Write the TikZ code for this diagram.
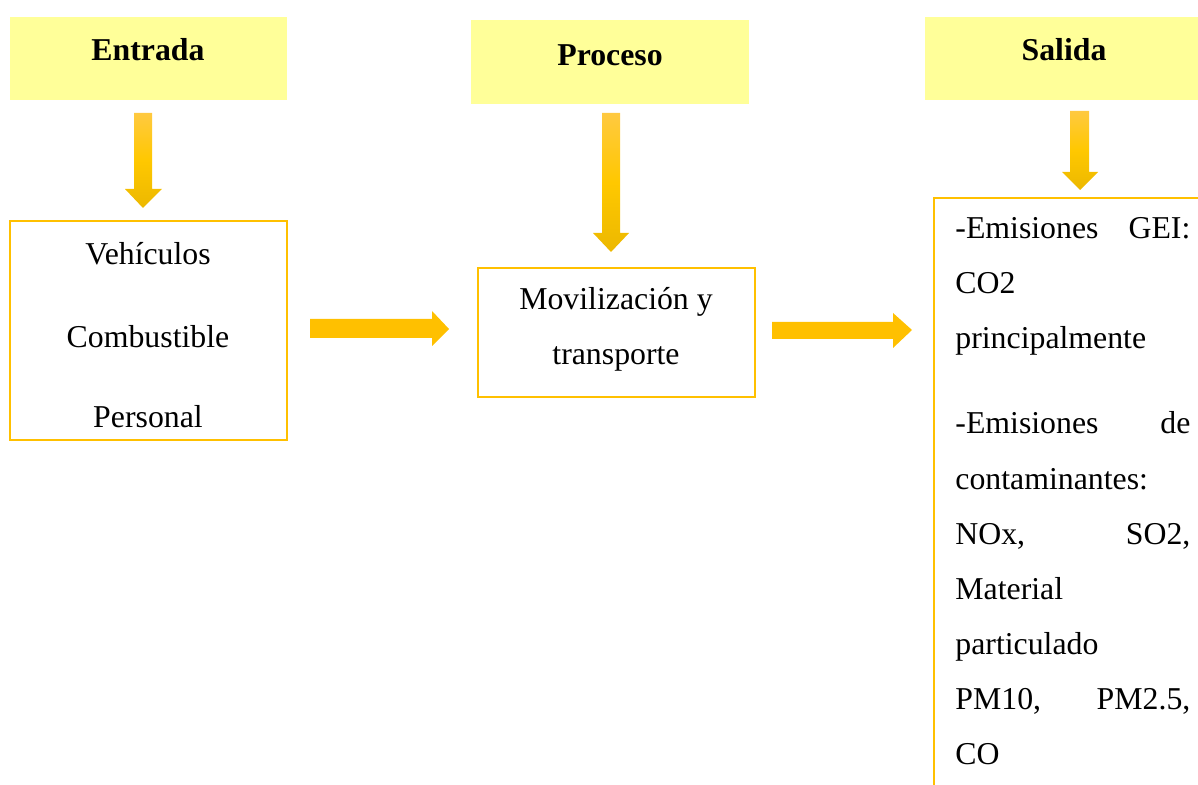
\documentclass[tikz,border=0pt]{standalone}
\usepackage{fontspec}
\setmainfont{Liberation Serif}
\definecolor{hdr}{HTML}{FFFF99}
\definecolor{bord}{HTML}{FFC000}
\definecolor{arr}{HTML}{FFC000}
\definecolor{atop}{HTML}{FFC940}
\definecolor{amid}{HTML}{FFC800}
\definecolor{abot}{HTML}{ECB800}
\begin{document}
\begin{tikzpicture}[x=0.5pt,y=-0.5pt,
  txt/.style={font=\fontsize{15.9}{19}\selectfont, inner sep=0, anchor=base},
  ltxt/.style={txt, anchor=base west},
  hdrtxt/.style={txt, font=\fontsize{15.9}{19}\selectfont\bfseries},
  hdrbox/.style={fill=hdr, draw=none},
  outbox/.style={draw=bord, line width=1.3pt},
  varrow/.style={top color=atop, bottom color=abot, middle color=amid, draw=none},
  harrow/.style={fill=arr, draw=none}]
\useasboundingbox (0,0) rectangle (1198,785);
\clip (0,0) rectangle (1198,785);

% header boxes
\fill[hdrbox] (10,17) rectangle (287,100);
\node[hdrtxt] (entrada) at (148,61) {Entrada};
\fill[hdrbox] (471,20) rectangle (749,104);
\node[hdrtxt] (proceso) at (610,66) {Proceso};
\fill[hdrbox] (925,17) rectangle (1203,100);
\node[hdrtxt] (salida) at (1064,61) {Salida};

% down arrows
\shade[varrow] (134,113) -- (152,113) -- (152,189) -- (162,189) -- (143,208) -- (125,189) -- (134,189) -- cycle;
\shade[varrow] (602,113) -- (620,113) -- (620,233) -- (629,233) -- (611,252) -- (593,233) -- (602,233) -- cycle;
\shade[varrow] (1070,111) -- (1089,111) -- (1089,172) -- (1098,172) -- (1080,190) -- (1062,172) -- (1070,172) -- cycle;

% input box
\draw[outbox] (10,221) rectangle (287,440);
\node[txt] (veh) at (148,265) {Vehículos};
\node[txt] (comb) at (148,348) {Combustible};
\node[txt] (pers) at (148,428) {Personal};

% process box
\draw[outbox] (478,268) rectangle (755,397);
\node[txt] (mov) at (616,310) {Movilización y};
\node[txt] (trans) at (616,365) {transporte};

% horizontal arrows
\fill[harrow] (310,319) -- (432,319) -- (432,311) -- (449,329) -- (432,346) -- (432,338) -- (310,338) -- cycle;
\fill[harrow] (772,322) -- (893,322) -- (893,313) -- (912,330) -- (893,348) -- (893,339) -- (772,339) -- cycle;

% output box
\draw[outbox] (934,198) rectangle (1210,800);
\node[ltxt] (o1) at (955,239) {\makebox[117.5pt][s]{-Emisiones GEI:}};
\node[ltxt] (o2) at (955,294) {CO2};
\node[ltxt] (o3) at (955,349) {principalmente};
\node[ltxt] (o4) at (955,434) {\makebox[117.5pt][s]{-Emisiones de}};
\node[ltxt] (o5) at (955,489) {contaminantes:};
\node[ltxt] (o6) at (955,544) {\makebox[117.5pt][s]{NOx, SO2,}};
\node[ltxt] (o7) at (955,599) {Material};
\node[ltxt] (o8) at (955,654) {particulado};
\node[ltxt] (o9) at (955,709) {\makebox[117.5pt][s]{PM10, PM2.5,}};
\node[ltxt] (o10) at (955,764) {CO};
\end{tikzpicture}
\end{document}
